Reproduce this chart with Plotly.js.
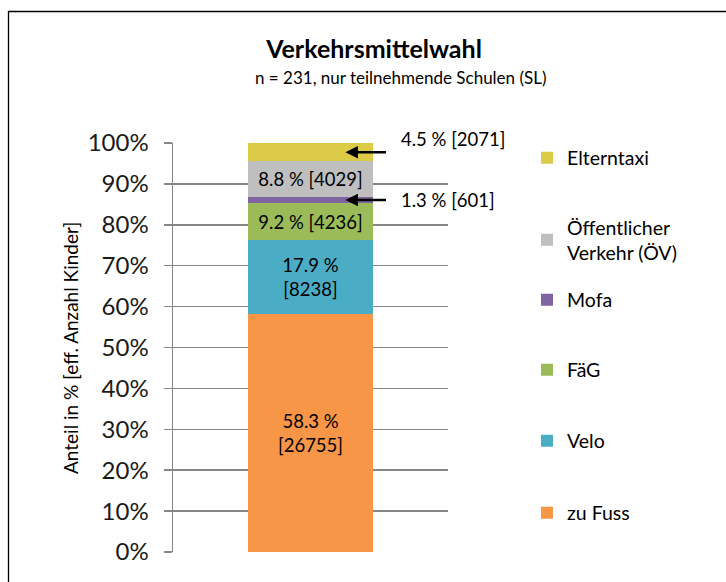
<!DOCTYPE html>
<html>
<head>
<meta charset="utf-8">
<script src="https://cdn.plot.ly/plotly-3.0.1.min.js"></script>
<style>html,body{margin:0;padding:0;background:#fff;}#chart{width:726px;height:582px;}</style>
</head>
<body>
<div id="chart"></div>
<script>
// ---- data ----
const categories = ["zu Fuss", "Velo", "FäG", "Mofa", "Öffentlicher<br>Verkehr (ÖV)", "Elterntaxi"];
const shares = [58.3, 17.9, 9.2, 1.3, 8.8, 4.5];
const counts = [26755, 8238, 4236, 601, 4029, 2071];
const barLabel = ["Schulen (SL)"];
const yTicks = [0, 10, 20, 30, 40, 50, 60, 70, 80, 90, 100];

// ---- styles ----
const colors = ["#F79646", "#4BACC6", "#9BBB59", "#8064A2", "#BFBFBF", "#DCCB46"];
const labelMode = ["two", "two", "one", "outside", "one", "outside"];
const FONT = "Lato, 'Open Sans', sans-serif";
const legendY = [0.0954, 0.271, 0.445, 0.616, 0.763, 0.9633];

const fmt = v => v.toFixed(1) + " %";
const traces = categories.map((c, i) => {
  let t = "";
  if (labelMode[i] === "two") t = fmt(shares[i]) + "<br>[" + counts[i] + "]";
  else if (labelMode[i] === "one") t = fmt(shares[i]) + " [" + counts[i] + "]";
  return {
    type: "bar",
    name: c,
    x: barLabel,
    y: [shares[i]],
    marker: {color: colors[i]},
    text: [t],
    textposition: "inside",
    insidetextanchor: "middle",
    constraintext: "none",
    textfont: {family: FONT, size: 18.5, color: "#000"},
    hoverinfo: "name+y",
    width: 0.458,
    legend: i === 0 ? "legend" : "legend" + (i + 1)
  };
});

// cumulative positions for outside labels
const cum = [];
shares.reduce((a, v, i) => { cum[i] = a + v / 2; return a + v; }, 0);

const annotations = [];
[3, 5].forEach(i => {
  annotations.push({
    x: 0.127, y: cum[i], xref: "x", yref: "y", text: "",
    showarrow: true, arrowhead: 2, arrowsize: 1, arrowwidth: 2.5, arrowcolor: "#000",
    ax: 42, ay: 0
  });
  annotations.push({
    x: 0.32, y: cum[i], xref: "x", yref: "y", xanchor: "left", yanchor: "middle",
    text: fmt(shares[i]) + " [" + counts[i] + "]", showarrow: false,
    yshift: i === 5 ? 13 : 0,
    font: {family: FONT, size: 18.5, color: "#000"}
  });
});
annotations.push({
  x: 0.829, y: 1.159, xref: "paper", yref: "paper", xanchor: "center", yanchor: "middle",
  text: "n = 231, nur teilnehmende Schulen (SL)", showarrow: false,
  font: {family: FONT, size: 17, color: "#000"}
});
annotations.push({
  x: (70 - 173) / 275, y: (552 - 348) / 409, xref: "paper", yref: "paper",
  xanchor: "center", yanchor: "middle",
  text: "Anteil in % [eff. Anzahl Kinder]", showarrow: false, textangle: -90,
  font: {family: FONT, size: 19, color: "#000"}
});

const layout = {
  width: 726, height: 582,
  margin: {l: 173, r: 278, t: 143, b: 30},
  paper_bgcolor: "#fff", plot_bgcolor: "#fff",
  barmode: "stack",
  bargap: 0,
  font: {family: FONT, color: "#000"},
  title: {
    text: "<b>Verkehrsmittelwahl</b>",
    font: {family: FONT, size: 25, color: "#000"},
    x: 374 / 726, xanchor: "center", xref: "container",
    y: 1 - 49 / 582, yanchor: "middle", yref: "container"
  },
  xaxis: {
    type: "category", range: [-0.5, 0.5], showticklabels: false, showgrid: false,
    zeroline: false, showline: false, ticks: "", fixedrange: true
  },
  yaxis: {
    range: [0, 100], tickvals: yTicks, ticktext: yTicks.map(v => v + "%"),
    showgrid: true, gridcolor: "#868686", gridwidth: 1.5,
    showline: true, linecolor: "#868686", linewidth: 1.5,
    ticks: "outside", ticklen: 8, tickcolor: "#868686", tickwidth: 1.5,
    tickfont: {family: FONT, size: 24, color: "#1a1a1a"},
    ticklabelstandoff: 10,
    zeroline: false,
    fixedrange: true
  },
  annotations: annotations,
  shapes: [{
    type: "rect", xref: "paper", yref: "paper",
    x0: (8.5 - 173) / 275, x1: (760 - 173) / 275,
    y0: (552 - 620) / 409, y1: (552 - 11.5) / 409,
    line: {color: "#000", width: 1.3}, fillcolor: "rgba(0,0,0,0)", layer: "below"
  }],
  showlegend: true
};
traces.forEach((t, i) => {
  const key = i === 0 ? "legend" : "legend" + (i + 1);
  layout[key] = {
    x: (527 - 173) / 275, xanchor: "left", y: legendY[i], yanchor: "middle",
    bgcolor: "rgba(0,0,0,0)", borderwidth: 0,
    font: {family: FONT, size: 19.5, color: "#000"},
    itemwidth: 30
  };
});

Plotly.newPlot("chart", traces, layout, {displayModeBar: false, staticPlot: true});
</script>
</body>
</html>
